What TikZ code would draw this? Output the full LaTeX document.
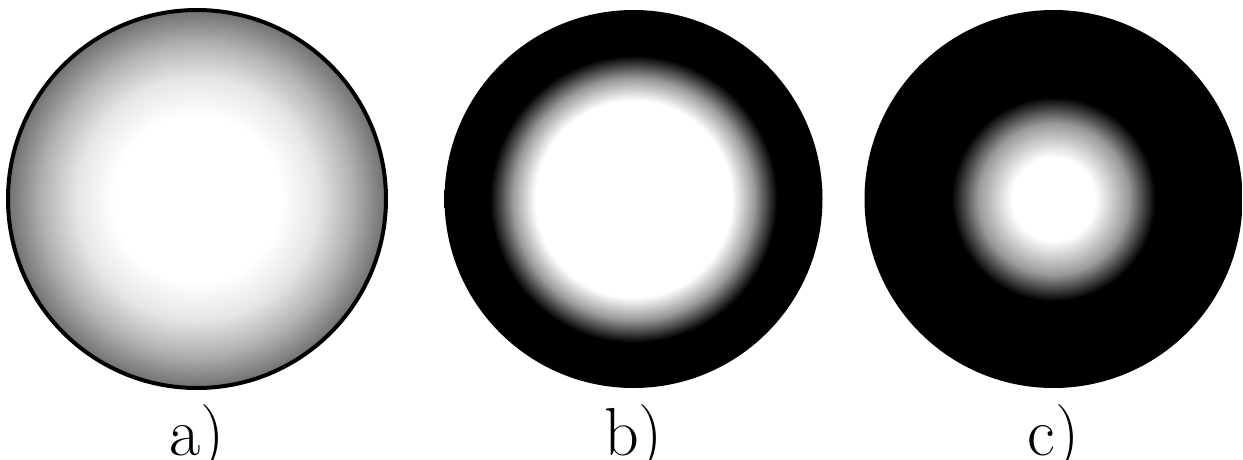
\documentclass[tikz,border=0pt]{standalone}
\pgfdeclareradialshading{shadeA}{\pgfpoint{0bp}{0bp}}{%
  color(0bp)=(white); color(11bp)=(white); color(16bp)=(black!10); color(20.5bp)=(black!30); color(25bp)=(black!56); color(50bp)=(black!56)}
\pgfdeclareradialshading{shadeB}{\pgfpoint{0bp}{0bp}}{%
  color(0bp)=(white); color(13bp)=(white); color(16bp)=(black!40); color(19bp)=(black); color(50bp)=(black)}
\pgfdeclareradialshading{shadeC}{\pgfpoint{0bp}{0bp}}{%
  color(0bp)=(white); color(5.5bp)=(white); color(10bp)=(black!40); color(13.5bp)=(black); color(50bp)=(black)}
\begin{document}
\begin{tikzpicture}[x=1pt,y=-1pt,
  ball/.style={circle, inner sep=0pt, minimum size=378pt},
  lab/.style={anchor=base, inner sep=0pt, font=\fontsize{68}{68}\selectfont}]
\useasboundingbox (0,0) rectangle (1243,459);
\fill[white] (0,0) rectangle (1243,459);
\node[ball, shading=shadeA, draw=black, line width=4pt] (A) at (197,199) {};
\node[ball, shading=shadeB] (B) at (633.5,199) {};
\node[ball, shading=shadeC] (C) at (1053.5,199) {};
\node[lab] (la) at (197,455) {a)};
\node[lab] (lb) at (633.5,455) {b)};
\node[lab] (lc) at (1053.5,455) {c)};
\end{tikzpicture}
\end{document}
